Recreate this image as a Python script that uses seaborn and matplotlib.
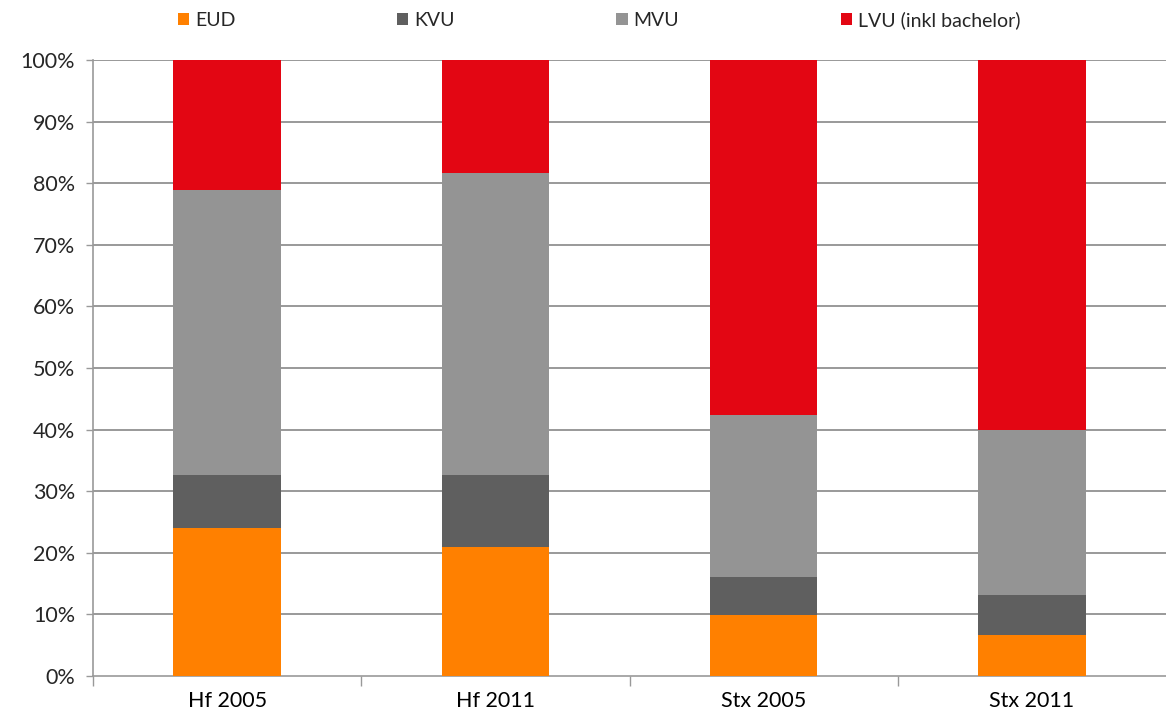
import matplotlib
matplotlib.use("Agg")
import matplotlib.pyplot as plt
import seaborn as sns
import numpy as np
import pandas as pd
from matplotlib.patches import Patch

categories = ["Hf 2005", "Hf 2011", "Stx 2005", "Stx 2011"]
series_names = ["EUD", "KVU", "MVU", "LVU (inkl bachelor)"]
eud = [24.0, 21.0, 9.9, 6.7]
kvu = [8.7, 11.7, 6.2, 6.4]
mvu = [46.2, 49.0, 26.2, 26.9]
lvu = [21.1, 18.3, 57.7, 60.0]
colors = ["#FF8000", "#5F5F5F", "#949494", "#E30613"]
yticks = [0, 10, 20, 30, 40, 50, 60, 70, 80, 90, 100]

sns.set_theme(style="white")
plt.rcParams["font.family"] = ["Lato", "DejaVu Sans"]

fig = plt.figure(figsize=(11.66, 7.2), dpi=100)
ax = fig.add_axes([93 / 1166, 1 - 676 / 720, 1 - 93 / 1166, (676 - 60) / 720])

df = pd.DataFrame({"cat": categories, "EUD": eud, "KVU": kvu, "MVU": mvu,
                   "LVU (inkl bachelor)": lvu})
bottom = np.zeros(len(categories))
for name, col in zip(series_names, colors):
    sns.barplot(data=df, x="cat", y=name, bottom=bottom, color=col, width=0.4,
                saturation=1, ax=ax, zorder=3, linewidth=0)
    bottom = bottom + df[name].to_numpy()

ax.set_xlim(-0.5, 3.5)
ax.set_ylim(0, 100)
ax.set_yticks(yticks)
ax.set_yticklabels([f"{v}%" for v in yticks], fontsize=15.5)
ax.set_xticks(range(len(categories)))
ax.set_xticklabels(categories, fontsize=15.5)
ax.set_xlabel("")
ax.set_ylabel("")

gc = "#999999"
for v in yticks[1:]:
    ax.axhline(v, color=gc, lw=1.4, zorder=1)
for s in ["top", "right"]:
    ax.spines[s].set_visible(False)
for s in ["left", "bottom"]:
    ax.spines[s].set_color(gc)
    ax.spines[s].set_linewidth(1.2)

ax.tick_params(axis="x", which="major", length=0, pad=11, colors="black")
ax.set_xticks([-0.5, 0.5, 1.5, 2.5], minor=True)
ax.tick_params(axis="x", which="minor", length=7, width=1, color=gc, bottom=True)
ax.tick_params(axis="y", which="major", length=5, width=1, color=gc, left=True, pad=8)

handles = [Patch(facecolor=c, edgecolor="none") for c in colors]
fig.legend(handles, series_names, loc="center left", ncol=4, frameon=False,
           bbox_to_anchor=(160 / 1166, 1 - 20 / 720), fontsize=14,
           handlelength=0.6, handleheight=0.6, handletextpad=0.3,
           columnspacing=8.3)

fig.savefig("out.png", dpi=100)
